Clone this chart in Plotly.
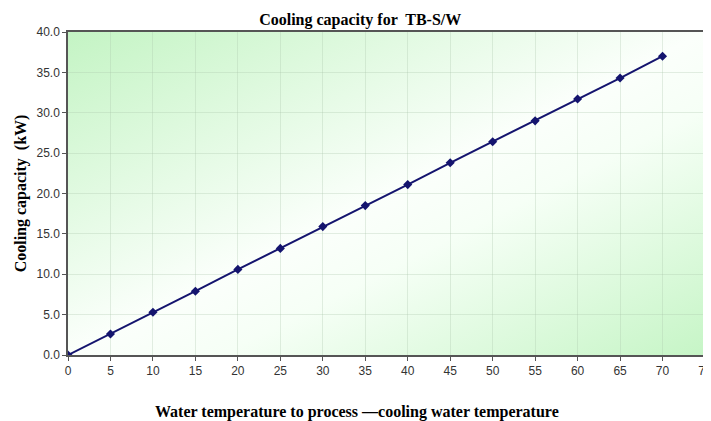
import base64
import plotly.graph_objects as go

temps = [0, 5, 10, 15, 20, 25, 30, 35, 40, 45, 50, 55, 60, 65, 70]
capacity = [0.0, 2.6, 5.3, 7.9, 10.6, 13.2, 15.9, 18.5, 21.1, 23.8, 26.4, 29.0, 31.7, 34.3, 37.0]

title_text = "Cooling capacity for  TB-S/W"
x_title = "Water temperature to process \u2014cooling water temperature"
y_title = "Cooling capacity  (kW)"

svg = (
    '<svg xmlns="http://www.w3.org/2000/svg" width="640" height="320" preserveAspectRatio="none" viewBox="0 0 640 320">'
    '<defs><linearGradient id="g" x1="0" y1="0" x2="1" y2="1">'
    '<stop offset="0" stop-color="#c4f4c4"/>'
    '<stop offset="0.5" stop-color="#fbfffb"/>'
    '<stop offset="0.62" stop-color="#f6fff6"/>'
    '<stop offset="1" stop-color="#c6f5c6"/>'
    '</linearGradient></defs>'
    '<rect width="640" height="320" fill="url(#g)"/></svg>'
)
bg_src = "data:image/svg+xml;base64," + base64.b64encode(svg.encode()).decode()

fig = go.Figure()
fig.add_trace(go.Scatter(
    x=temps, y=capacity, mode="lines+markers",
    line=dict(color="#14146e", width=2),
    marker=dict(symbol="diamond", size=7, color="#14146e"),
    showlegend=False,
))

fig.update_layout(
    width=703, height=413,
    margin=dict(l=60, r=6, t=24, b=66, autoexpand=False),
    paper_bgcolor="white",
    plot_bgcolor="rgba(0,0,0,0)",
    title=dict(text=title_text, x=0.501, xanchor="center", y=0.973, yanchor="middle",
               font=dict(family="Liberation Serif", size=16, color="black", weight="bold")),
    images=[dict(source=bg_src, xref="paper", yref="paper", x=0, y=1, sizex=1, sizey=1,
                 sizing="stretch", layer="below", xanchor="left", yanchor="top")],
    xaxis=dict(range=[0, 75], dtick=5, tick0=0, showgrid=True, gridcolor="rgba(170,195,170,0.3)",
               gridwidth=1, showline=True, linecolor="#555555", linewidth=1.5, mirror=True,
               ticks="outside", ticklen=4, tickcolor="#555555", zeroline=False, automargin=False,
               ticklabeloverflow="allow",
               tickfont=dict(family="Liberation Sans", size=12, color="#333333")),
    yaxis=dict(range=[0, 40], dtick=5, tick0=0, tickformat=".1f", showgrid=True,
               gridcolor="rgba(170,195,170,0.3)", gridwidth=1, showline=True,
               linecolor="#555555", linewidth=1.5, mirror=True, ticks="outside", ticklen=4,
               tickcolor="#555555", zeroline=False, automargin=False,
               tickfont=dict(family="Liberation Sans", size=12, color="#333333")),
    annotations=[
        dict(text=x_title, xref="paper", yref="paper", x=0.454, y=-0.175, showarrow=False,
             xanchor="center", yanchor="middle",
             font=dict(family="Liberation Serif", size=16, color="black", weight="bold")),
        dict(text=y_title, xref="paper", yref="paper", x=-0.074, y=0.5, showarrow=False,
             textangle=-90, xanchor="center", yanchor="middle",
             font=dict(family="Liberation Serif", size=16, color="black", weight="bold")),
    ],
)

fig.write_html("out.html")
